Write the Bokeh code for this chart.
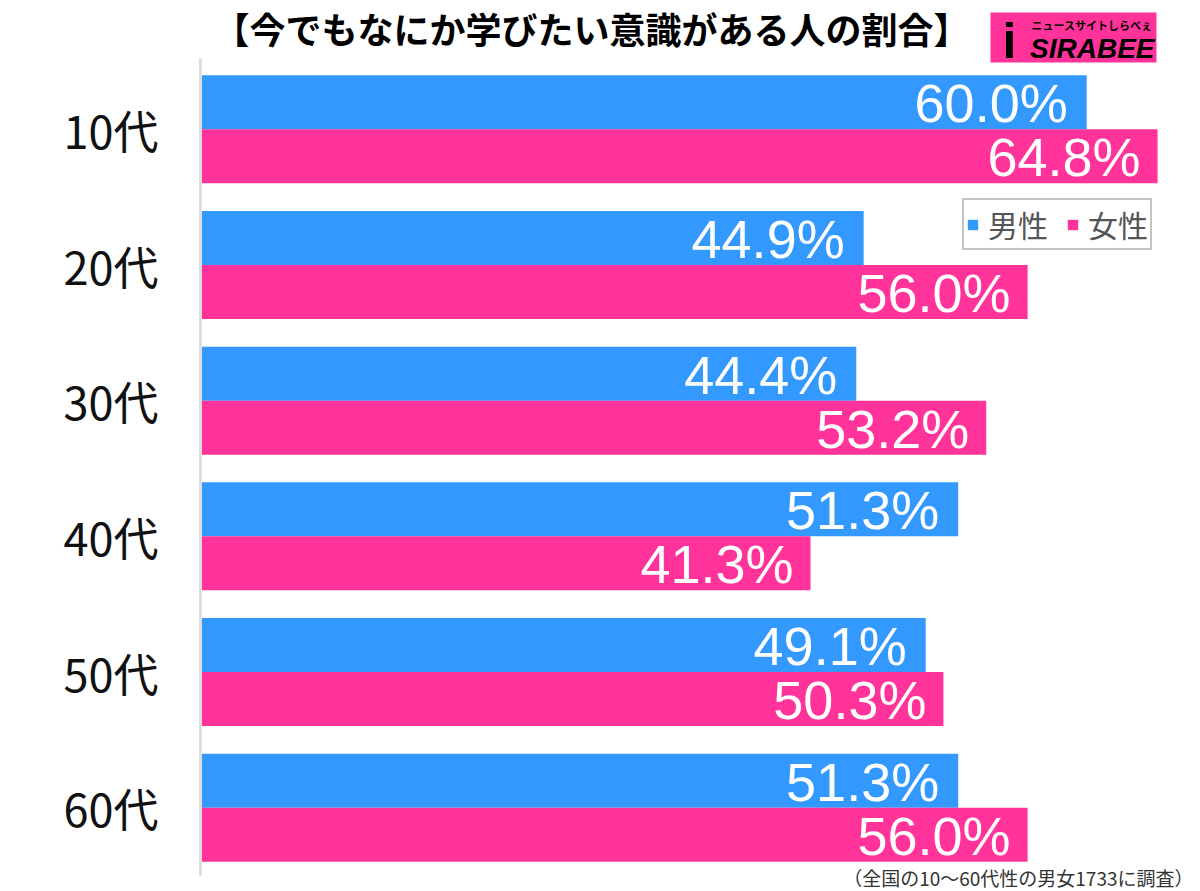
from bokeh.plotting import figure
from bokeh.models import (ColumnDataSource, Range1d, FixedTicker, Label, Legend,
                          LegendItem, BoxAnnotation, LinearAxis)
from bokeh.transform import dodge
from bokeh.core.properties import value
from bokeh.embed import file_html
from bokeh.resources import INLINE

# ---- data ----
ages = ["10代", "20代", "30代", "40代", "50代", "60代"]
male = [60.0, 44.9, 44.4, 51.3, 49.1, 51.3]
female = [64.8, 56.0, 53.2, 41.3, 50.3, 56.0]
series_names = ["男性", "女性"]
title_text = "【今でもなにか学びたい意識がある人の割合】"
note_text = "（全国の10〜60代性の男女1733に調査）"

BLUE = "#3399ff"
PINK = "#ff3399"

W, H = 1200, 891
ORIGIN_X, TOP, BOTTOM_PX = 200, 61, 875
PX_PER_PCT = 14.77
n = len(ages)
PX_PER_ROW = (BOTTOM_PX - TOP) / n


def px2x(px):
    return (px - ORIGIN_X) / PX_PER_PCT


def py2y(py):
    return (py - TOP) / PX_PER_ROW


pos = [i + 0.5 for i in range(n)]
src = ColumnDataSource(dict(
    y=pos, male=male, female=female,
    male_lbl=[f"{v:.1f}%" for v in male],
    female_lbl=[f"{v:.1f}%" for v in female],
))

p = figure(width=W, height=H, output_backend="svg", toolbar_location=None,
           x_range=Range1d(px2x(0), px2x(W)), y_range=Range1d(py2y(H), py2y(0)),
           x_axis_location=None, y_axis_location=None,
           min_border=0, min_border_left=0, min_border_right=0,
           min_border_top=0, min_border_bottom=0)
p.outline_line_color = None
p.background_fill_color = "white"
p.border_fill_color = "white"
p.grid.visible = False

bh = 0.398
rm = p.hbar(y=dodge("y", -bh / 2), right="male", left=0, height=bh,
            source=src, fill_color=BLUE, line_color=None)
rf = p.hbar(y=dodge("y", bh / 2), right="female", left=0, height=bh,
            source=src, fill_color=PINK, line_color=None)

p.text(x="male", y=dodge("y", -bh / 2), text="male_lbl", source=src,
       text_align="right", text_baseline="middle", x_offset=-19, y_offset=1,
       text_color="white", text_font=value("Liberation Sans"),
       text_font_size="54px")
p.text(x="female", y=dodge("y", bh / 2), text="female_lbl", source=src,
       text_align="right", text_baseline="middle", x_offset=-17, y_offset=1,
       text_color="white", text_font=value("Liberation Sans"),
       text_font_size="54px")

ya = LinearAxis(fixed_location=0)
ya.ticker = FixedTicker(ticks=pos)
ya.major_label_overrides = {pv: a for pv, a in zip(pos, ages)}
ya.bounds = (py2y(58), py2y(875))
ya.major_tick_line_color = None
ya.minor_tick_line_color = None
ya.major_tick_out = 0
ya.major_tick_in = 0
ya.major_label_standoff = 42
ya.axis_line_color = "#dddddd"
ya.axis_line_width = 3
ya.major_label_text_font = "Noto Sans CJK JP"
ya.major_label_text_font_size = "45px"
ya.major_label_text_color = "#111111"
p.add_layout(ya, "left")

legend = Legend(items=[LegendItem(label=series_names[0], renderers=[rm]),
                       LegendItem(label=series_names[1], renderers=[rf])],
                orientation="horizontal", location=(962, H - 250),
                glyph_width=13, glyph_height=13, label_standoff=9, spacing=18,
                padding=2, margin=0,
                label_text_font="Noto Sans CJK JP", label_text_font_size="30px",
                label_text_color="#555555",
                border_line_color="#888888", border_line_width=2,
                background_fill_alpha=1.0)
p.add_layout(legend, "center")

# title
p.add_layout(Label(x=px2x(591), y=py2y(27), text=title_text,
                   text_align="center", text_baseline="middle",
                   text_font="Noto Sans CJK JP", text_font_style="bold",
                   text_font_size="36px", text_color="black"))

# footnote
p.add_layout(Label(x=px2x(1193), y=py2y(877), text=note_text,
                   text_align="right", text_baseline="middle",
                   text_font="Noto Sans CJK JP", text_font_size="19px",
                   text_color="#333333"))

# logo
p.add_layout(BoxAnnotation(left=px2x(990), right=px2x(1156),
                           top=py2y(12), bottom=py2y(62),
                           fill_color=PINK, fill_alpha=1.0, line_color=None))
p.add_layout(Label(x=px2x(1009), y=py2y(40), text="i",
                   text_align="center", text_baseline="middle",
                   text_font="Liberation Sans", text_font_style="bold",
                   text_font_size="50px", text_color="black"))
p.add_layout(Label(x=px2x(1154), y=py2y(48), text="SIRABEE",
                   text_align="right", text_baseline="middle",
                   text_font="Liberation Sans", text_font_style="bold italic",
                   text_font_size="28px", text_color="black"))
p.add_layout(Label(x=px2x(1152), y=py2y(24), text="ニュースサイトしらべぇ",
                   text_align="right", text_baseline="middle",
                   text_font="Noto Sans CJK JP", text_font_style="bold",
                   text_font_size="11px", text_color="black"))

open("out.html", "w").write(file_html(p, INLINE))
